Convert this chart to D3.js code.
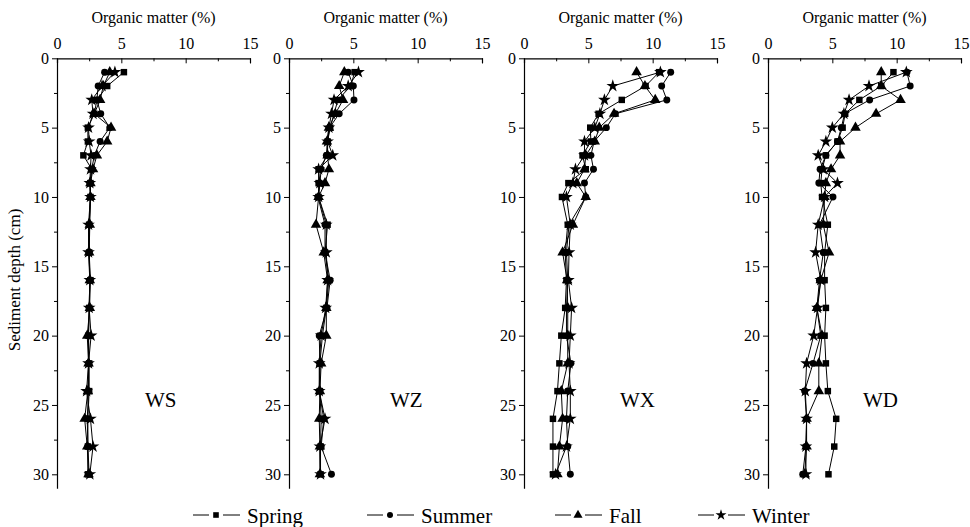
<!DOCTYPE html>
<html><head><meta charset="utf-8">
<script src="https://cdn.jsdelivr.net/npm/d3@7"></script>
<style>body{margin:0;background:#fff}svg{display:block}</style>
</head><body><svg id="c" width="970" height="527"></svg>
<script>
const depths = [1,2,3,4,5,6,7,8,9,10,12,14,16,18,20,22,24,26,28,30];
const seasons = ["Spring","Summer","Fall","Winter"];
const sites = ["WS","WZ","WX","WD"];
const xTicks = [0,5,10,15];
const yTicks = [0,5,10,15,20,25,30];

const wsSpring = [5.2,3.9,3.1,2.9,2.4,2.4,2.05,2.7,2.6,2.6,2.5,2.5,2.6,2.5,2.45,2.5,2.5,2.4,2.4,2.4];
const wsSummer = [3.7,3.2,3.1,3.4,4.1,3.35,2.9,2.7,2.55,2.6,2.5,2.5,2.55,2.5,2.45,2.45,2.45,2.35,2.4,2.5];
const wsFall   = [4.1,3.6,3.35,2.9,4.2,3.9,3.1,2.8,2.6,2.6,2.55,2.5,2.55,2.55,2.35,2.45,2.4,2.15,2.35,2.45];
const wsWinter = [4.5,3.5,2.7,2.8,2.45,2.5,2.65,2.6,2.55,2.6,2.45,2.45,2.55,2.5,2.65,2.45,2.3,2.6,2.8,2.55];

const wzSpring = [5.1,4.8,3.8,3.5,3.2,3.0,3.0,2.3,2.3,2.3,3.0,2.8,3.1,2.9,2.6,2.4,2.4,2.5,2.45,2.45];
const wzSummer = [4.6,5.0,5.05,3.9,3.15,3.0,2.9,2.5,2.4,2.25,2.8,2.8,3.2,2.95,2.35,2.4,2.35,2.7,2.5,3.3];
const wzFall   = [4.3,3.9,4.2,3.6,3.1,2.95,3.0,3.1,2.8,2.3,2.1,2.7,3.0,2.9,2.9,2.5,2.4,2.35,2.4,2.4];
const wzWinter = [5.4,4.6,3.5,3.3,3.1,3.0,3.4,2.3,2.4,2.3,2.9,2.9,3.0,2.85,2.5,2.35,2.35,2.8,2.4,2.45];

const wxSpring = [10.5,9.45,7.6,5.8,5.15,5.2,4.55,4.8,3.45,2.95,3.4,3.2,3.3,3.2,2.9,2.75,2.6,2.25,2.25,2.25];
const wxSummer = [11.4,10.7,11.1,7.1,6.4,5.45,5.2,5.4,4.7,4.8,3.5,3.3,3.4,3.3,3.3,3.65,3.4,3.3,3.4,3.6];
const wxFall   = [8.75,9.4,10.2,7.0,5.85,5.5,4.8,4.7,4.1,4.8,3.8,3.0,3.35,3.4,3.4,3.4,2.9,3.0,2.75,2.6];
const wxWinter = [10.6,6.9,6.25,5.9,5.5,4.7,4.7,4.0,3.8,3.3,3.6,3.5,3.45,3.7,3.6,3.5,3.6,3.6,3.3,2.45];

const wdSpring = [9.75,8.8,7.1,6.0,5.8,5.4,4.5,4.2,4.1,4.2,4.65,4.4,4.4,4.5,4.4,4.5,4.65,5.3,5.15,4.7];
const wdSummer = [10.8,11.05,7.9,5.95,5.7,5.4,4.5,4.05,3.95,5.05,4.0,4.3,4.0,3.8,4.1,3.5,2.85,3.0,2.95,2.7];
const wdFall   = [8.8,8.8,10.3,8.4,6.8,5.6,5.6,4.9,4.5,4.4,4.3,4.75,4.1,3.8,4.2,3.95,3.95,3.0,3.0,2.85];
const wdWinter = [10.75,7.85,6.3,5.9,5.0,4.5,3.9,4.3,5.4,4.4,3.9,3.7,4.1,3.85,3.55,3.0,2.9,3.0,2.95,2.95];

const siteData = [
  [wsSpring, wsSummer, wsFall, wsWinter],
  [wzSpring, wzSummer, wzFall, wzWinter],
  [wxSpring, wxSummer, wxFall, wxWinter],
  [wdSpring, wdSummer, wdFall, wdWinter]
];

const svg = d3.select("#c");
const FONT = "'Liberation Serif','Times New Roman',serif";
const lefts = [57, 289, 524, 768];
const labelOffsets = [88, 101, 96, 95];
const W = 193;
const yTop = 58.3;
const y = d3.scaleLinear().domain([0,30]).range([yTop, yTop + 416]);
const symbols = [d3.symbolSquare, d3.symbolCircle, d3.symbolTriangle, d3.symbolStar];
const sizes = [42, 38, 48, 50];

sites.forEach((site, i) => {
  const x = d3.scaleLinear().domain([0,15]).range([lefts[i], lefts[i] + W]);
  const g = svg.append("g");

  // top axis
  const ax = g.append("g").attr("transform", `translate(0,${yTop})`)
    .call(d3.axisTop(x).tickValues(xTicks).tickSize(-5).tickPadding(9).tickFormat(d3.format("d")));
  ax.selectAll("text").attr("font-family", FONT).attr("font-size", 16).attr("fill", "#000");
  ax.select(".domain").attr("stroke", "#000").attr("stroke-width", 1.2);
  ax.selectAll(".tick line").attr("stroke", "#000");
  g.append("g").attr("transform", `translate(0,${yTop})`)
    .call(d3.axisTop(x).tickValues([2.5,7.5,12.5]).tickSize(-3).tickFormat(""))
    .call(s => s.select(".domain").remove())
    .selectAll("line").attr("stroke", "#000");

  // left axis
  const yAxisScale = d3.scaleLinear().domain([0,31]).range([yTop, y(31)]);
  const ay = g.append("g").attr("transform", `translate(${lefts[i]},0)`)
    .call(d3.axisLeft(yAxisScale).tickValues(yTicks).tickSize(5).tickPadding(3).tickSizeOuter(0).tickFormat(d3.format("d")));
  ay.selectAll("text").attr("font-family", FONT).attr("font-size", 16).attr("fill", "#000");
  ay.select(".domain").attr("stroke", "#000").attr("stroke-width", 1.2);
  ay.selectAll(".tick line").attr("stroke", "#000");
  g.append("g").attr("transform", `translate(${lefts[i]},0)`)
    .call(d3.axisLeft(y).tickValues([2.5,7.5,12.5,17.5,22.5,27.5]).tickSize(3).tickFormat(""))
    .call(s => s.select(".domain").remove())
    .selectAll("line").attr("stroke", "#000");

  // title
  g.append("text").attr("x", lefts[i] + W/2).attr("y", 23)
    .attr("text-anchor", "middle").attr("font-family", FONT).attr("font-size", 16)
    .text("Organic matter (%)");

  const line = d3.line().x(d => x(d[0])).y(d => y(d[1]));
  siteData[i].forEach((vals) => {
    g.append("path").datum(vals.map((v, k) => [v, depths[k]]))
      .attr("d", line).attr("fill", "none").attr("stroke", "#000").attr("stroke-width", 1);
  });
  siteData[i].forEach((vals, s) => {
    g.selectAll(null).data(vals.map((v, k) => [v, depths[k]])).enter().append("path")
      .attr("d", d3.symbol().type(symbols[s]).size(sizes[s]))
      .attr("transform", d => `translate(${x(d[0])},${y(d[1])})`)
      .attr("fill", "#000");
  });

  g.append("text").attr("x", lefts[i] + labelOffsets[i]).attr("y", 407)
    .attr("font-family", FONT).attr("font-size", 21).text(site);
});

// y title
svg.append("text").attr("transform", "translate(20,280) rotate(-90)")
  .attr("text-anchor", "middle").attr("font-family", FONT).attr("font-size", 17)
  .text("Sediment depth (cm)");

// legend
const legX = [193, 367, 555, 698];
seasons.forEach((s, i) => {
  const lx = legX[i];
  const lg = svg.append("g");
  lg.append("line").attr("x1", lx).attr("x2", lx + 16).attr("y1", 515).attr("y2", 515).attr("stroke", "#000");
  lg.append("line").attr("x1", lx + 30).attr("x2", lx + 47).attr("y1", 515).attr("y2", 515).attr("stroke", "#000");
  lg.append("path").attr("d", d3.symbol().type(symbols[i]).size(sizes[i]*0.75)())
    .attr("transform", `translate(${lx + 23},515)`).attr("fill", "#000");
  lg.append("text").attr("x", lx + 54).attr("y", 523).attr("font-family", FONT).attr("font-size", 21).text(s);
});
</script></body></html>
